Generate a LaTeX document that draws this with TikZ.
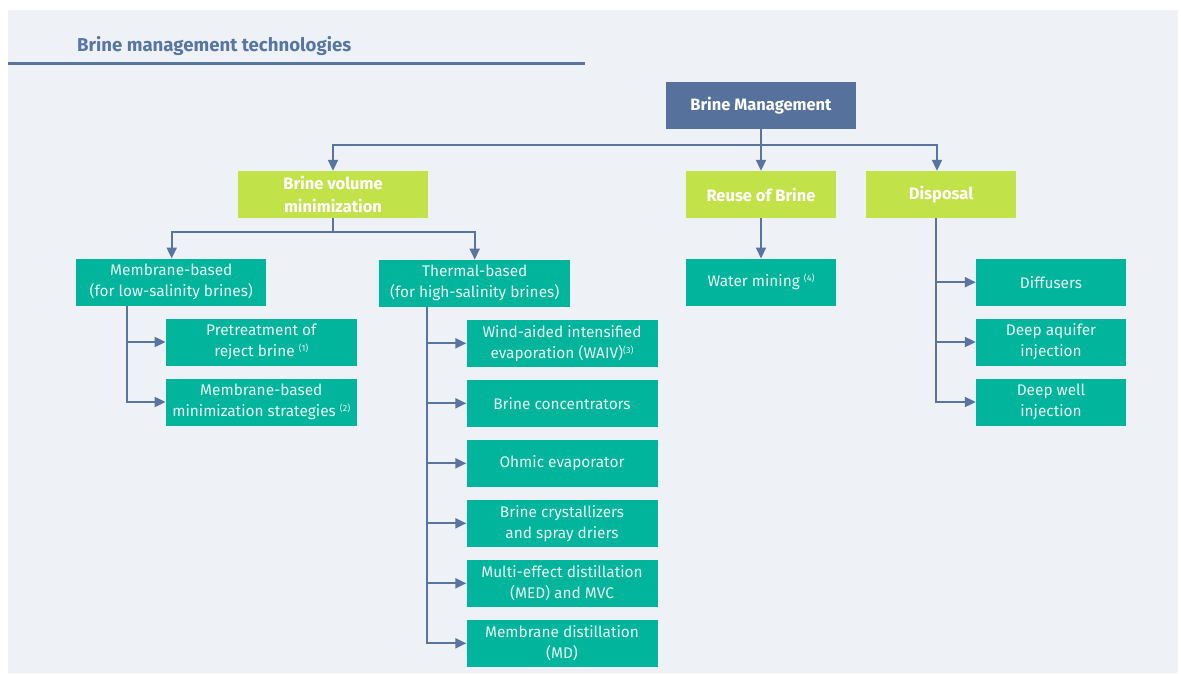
\documentclass[tikz,border=0pt]{standalone}
\usepackage{fontspec}
\setmainfont{Fira Sans}
\usetikzlibrary{arrows.meta}
\definecolor{bgc}{HTML}{EEF1F6}
\definecolor{darkb}{HTML}{56719C}
\definecolor{limec}{HTML}{C2E249}
\definecolor{tealc}{HTML}{00B59B}
\definecolor{linec}{HTML}{5A74A0}
\definecolor{titlec}{HTML}{5876A3}
\definecolor{txtc}{HTML}{EAF6F2}
\newcommand{\supnote}[1]{\raisebox{5pt}{\fontsize{9}{9}\selectfont #1}}
\tikzset{
  box/.style={rectangle, inner sep=0pt, minimum height=47pt, align=center, text=txtc, font=\fontsize{15.4}{21}\selectfont},
  topbox/.style={box, fill=darkb, minimum width=190pt, text=white, font=\bfseries\fontsize{16.5}{23}\selectfont},
  limebox/.style={box, fill=limec, text=white, font=\bfseries\fontsize{16.5}{23}\selectfont},
  tealbox/.style={box, fill=tealc},
  conn/.style={draw=linec, line width=2pt, -{Triangle[length=11pt,width=10pt]}},
  plainconn/.style={draw=linec, line width=2pt}
}
\begin{document}
\begin{tikzpicture}[x=1pt,y=-1pt]
\useasboundingbox (0,0) rectangle (1181,673);
\fill[bgc] (8,10) rectangle (1178,673);
\node[anchor=base west, text=titlec, font=\bfseries\fontsize{18.6}{20}\selectfont, inner sep=0pt] (title) at (77,51.5) {Brine management technologies};
\draw[linec, line width=3pt] (8,63.5) coordinate (tl1) -- (585,63.5) coordinate (tl2);

\node[topbox] (top) at (761,105.5) {Brine Management};

\node[limebox, minimum width=190pt] (bv) at (333,194.5) {Brine volume\\minimization};
\node[limebox, minimum width=150pt] (reuse) at (761,194.5) {Reuse of Brine};
\node[limebox, minimum width=150pt] (disp) at (941,194.5) {Disposal};

\node[tealbox, minimum width=190pt] (mem) at (171.3,282.2) {Membrane-based\\(for low-salinity brines)};
\node[tealbox, minimum width=191pt] (the) at (474.7,283.3) {Thermal-based\\(for high-salinity brines)};
\node[tealbox, minimum width=150pt] (water) at (761,282.2) {Water mining \supnote{(4)}};

\node[tealbox, minimum width=191pt] (pre) at (261.3,342) {Pretreatment of\\reject brine \supnote{(1)}};
\node[tealbox, minimum width=191pt] (mms) at (261.3,402) {Membrane-based\\minimization strategies \supnote{(2)}};

\node[tealbox, minimum width=191pt] (t1) at (562,343.3) {Wind-aided intensified\\evaporation (WAIV)\supnote{(3)}};
\node[tealbox, minimum width=191pt] (t2) at (562,403.3) {Brine concentrators};
\node[tealbox, minimum width=191pt] (t3) at (562,463.3) {Ohmic evaporator};
\node[tealbox, minimum width=191pt] (t4) at (562,523.3) {Brine crystallizers\\and spray driers};
\node[tealbox, minimum width=191pt] (t5) at (562,583.3) {Multi-effect distillation\\(MED) and MVC};
\node[tealbox, minimum width=191pt] (t6) at (562,643.3) {Membrane distillation\\(MD)};

\node[tealbox, minimum width=150pt] (d1) at (1051,282.2) {Diffusers};
\node[tealbox, minimum width=150pt] (d2) at (1051,342) {Deep aquifer\\injection};
\node[tealbox, minimum width=150pt] (d3) at (1051,402) {Deep well\\injection};

% top level
\coordinate (bus1) at (761,144.5);
\draw[plainconn] (top.south) -- (bus1);
\draw[conn] (bus1) -| (bv.north);
\draw[conn] (bus1) -- (reuse.north);
\draw[conn] (bus1) -| ([xshift=-4pt]disp.north);

% brine volume
\coordinate (bus2) at (333,232.3);
\draw[plainconn] (bv.south) -- (bus2);
\draw[conn] (bus2) -| ([xshift=0.4pt]mem.north);
\draw[conn] (bus2) -| (the.north);

% reuse
\draw[conn] (reuse.south) -- (water.north);

% membrane children
\draw[conn] ([xshift=-44.6pt]mem.south) |- (pre.west);
\draw[conn] ([xshift=-44.6pt]mem.south) |- (mms.west);

% thermal children
\foreach \n in {t1,t2,t3,t4,t5,t6}{
  \draw[conn] ([xshift=-47.4pt]the.south) |- (\n.west);
}

% disposal children
\foreach \n in {d1,d2,d3}{
  \draw[conn] ([xshift=-5pt]disp.south) |- (\n.west);
}
\end{tikzpicture}
\end{document}
